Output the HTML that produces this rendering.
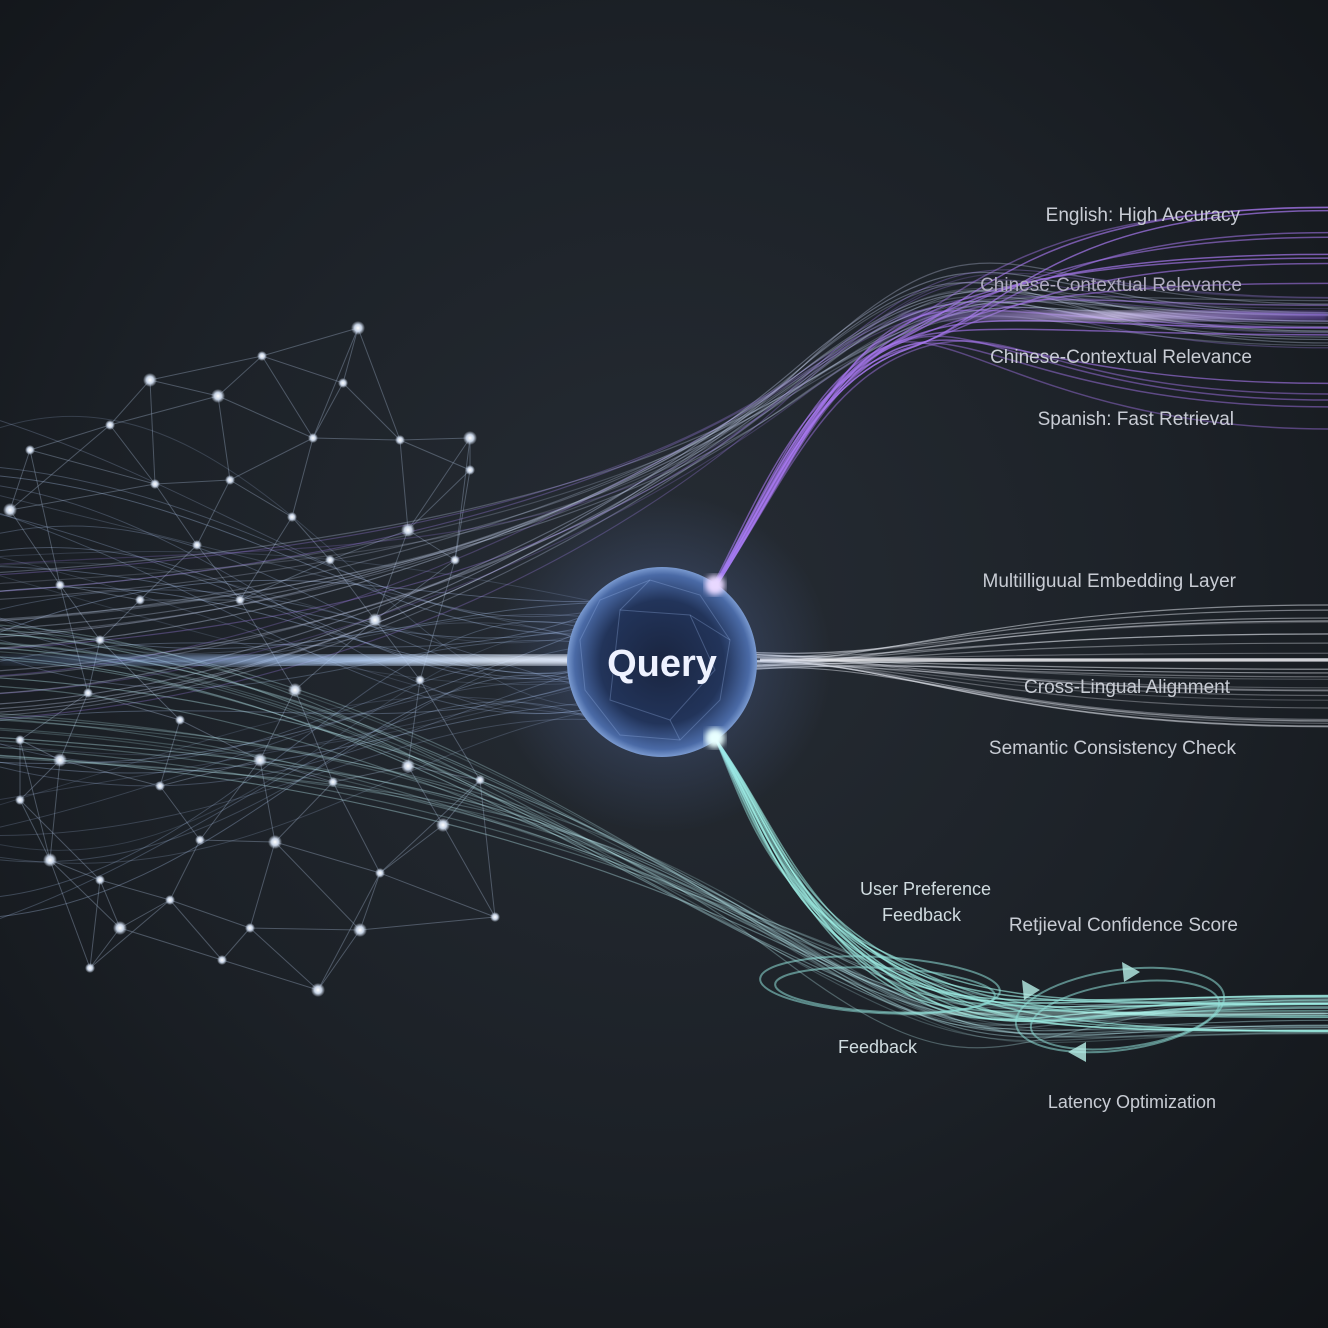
<!DOCTYPE html>
<html><head><meta charset="utf-8"><style>
html,body{margin:0;padding:0;background:#15191f;}
svg{display:block}
text{font-family:"Liberation Sans",sans-serif;}
</style></head><body>
<svg id="s" width="1328" height="1328" viewBox="0 0 1328 1328" xmlns="http://www.w3.org/2000/svg">
<defs>
<radialGradient id="bg" cx="0.5" cy="0.45" r="0.75">
<stop offset="0" stop-color="#262c34"/><stop offset="0.55" stop-color="#1c2127"/><stop offset="1" stop-color="#111418"/>
</radialGradient>
<radialGradient id="sph" cx="0.5" cy="0.5" r="0.5">
<stop offset="0" stop-color="#1a2540"/><stop offset="0.65" stop-color="#22345a"/><stop offset="0.92" stop-color="#4a6aa6"/><stop offset="1" stop-color="#7a9ad0"/>
</radialGradient>
<radialGradient id="glow" cx="0.5" cy="0.5" r="0.5">
<stop offset="0" stop-color="#7aa0ff" stop-opacity="0.3"/><stop offset="1" stop-color="#7aa0ff" stop-opacity="0"/>
</radialGradient>
<radialGradient id="dot" cx="0.5" cy="0.5" r="0.5">
<stop offset="0" stop-color="#ffffff"/><stop offset="0.5" stop-color="#c8d4e6"/><stop offset="1" stop-color="#c8d4e6" stop-opacity="0"/>
</radialGradient>
<linearGradient id="hline" x1="0" x2="1"><stop offset="0" stop-color="#8ab4ff" stop-opacity="0.1"/><stop offset="0.6" stop-color="#bcd8ff" stop-opacity="0.9"/><stop offset="1" stop-color="#ffffff" stop-opacity="1"/></linearGradient>
<linearGradient id="pl" x1="0" x2="1"><stop offset="0" stop-color="#9a6cf0" stop-opacity="0.3"/><stop offset="0.5" stop-color="#e0d0ff" stop-opacity="1"/><stop offset="1" stop-color="#8a5ae0" stop-opacity="0.6"/></linearGradient>
<filter id="blur"><feGaussianBlur stdDeviation="3"/></filter>
</defs>
<rect width="1328" height="1328" fill="url(#bg)"/>
<g id="net" stroke="#8a9ab0" stroke-width="1" stroke-opacity="0.45" fill="none"></g>
<g id="streams" fill="none"></g>
<rect x="0" y="655" width="600" height="10" fill="url(#hline)" filter="url(#blur)"/>
<line x1="40" y1="660" x2="600" y2="660" stroke="url(#hline)" stroke-width="2"/>
<rect x="900" y="311" width="428" height="10" fill="url(#pl)" filter="url(#blur)" opacity="0.8"/>
<line x1="880" y1="316" x2="1328" y2="316" stroke="url(#pl)" stroke-width="2"/>
<g fill="none" stroke="#8fe0d8" stroke-opacity="0.55" stroke-width="2">
<ellipse cx="880" cy="985" rx="120" ry="28" transform="rotate(3 880 985)"/>
<ellipse cx="885" cy="990" rx="110" ry="22" transform="rotate(3 885 990)"/>
<ellipse cx="1120" cy="1010" rx="105" ry="40" transform="rotate(-8 1120 1010)"/>
<ellipse cx="1125" cy="1015" rx="95" ry="32" transform="rotate(-8 1125 1015)"/>
</g>
<g fill="#b8f0e8" opacity="0.8">
<polygon points="1140,972 1122,962 1124,982"/>
<polygon points="1068,1052 1086,1042 1086,1062"/>
<polygon points="1040,990 1022,980 1024,1000"/>
</g>
<circle cx="662" cy="662" r="170" fill="url(#glow)"/>
<circle cx="662" cy="662" r="95" fill="url(#sph)"/>
<g stroke="#9ab8ee" stroke-opacity="0.3" fill="none" stroke-width="1">
<polygon points="600,600 650,580 700,595 730,640 720,700 680,740 620,735 585,690 580,640"/>
<polygon points="620,610 690,615 715,670 670,720 610,700"/>
<line x1="650" y1="580" x2="620" y2="610"/><line x1="730" y1="640" x2="690" y2="615"/><line x1="680" y1="740" x2="670" y2="720"/>
</g>
<circle cx="715" cy="585" r="10" fill="#e8d8ff" filter="url(#blur)"/>
<circle cx="715" cy="738" r="10" fill="#e8ffff" filter="url(#blur)"/>
<text x="662" y="676" text-anchor="middle" font-size="38" font-weight="bold" fill="#eef2ff">Query</text>
<g font-size="19" fill="#c8ccd4">
<text x="1240" y="221" text-anchor="end">English: High Accuracy</text>
<text x="1242" y="291" text-anchor="end" fill="#b0acc0">Chinese-Contextual Relevance</text>
<text x="1252" y="363" text-anchor="end">Chinese-Contextual Relevance</text>
<text x="1234" y="425" text-anchor="end">Spanish: Fast Retrieval</text>
<text x="1236" y="587" text-anchor="end">Multilliguual Embedding Layer</text>
<text x="1230" y="693" text-anchor="end">Cross-Lingual Alignment</text>
<text x="1236" y="754" text-anchor="end">Semantic Consistency Check</text>
<text x="1238" y="931" text-anchor="end">Retjieval Confidence Score</text>
<text x="1216" y="1108" text-anchor="end" font-size="18">Latency Optimization</text>
</g>
<g font-size="18" fill="#d0dce0">
<text x="860" y="895">User Preference</text>
<text x="882" y="921">Feedback</text>
<text x="838" y="1053">Feedback</text>
</g>
<g id="nodes"></g>
<script>
(function(){
var N=[[358,328],[262,356],[343,383],[218,396],[110,425],[313,438],[470,438],[155,484],[292,517],[408,530],[197,545],[60,585],[10,510],[455,560],[100,640],[375,620],[240,600],[88,693],[295,690],[180,720],[20,740],[408,766],[160,786],[333,782],[443,825],[20,800],[100,880],[275,842],[380,873],[200,840],[120,928],[250,928],[495,917],[318,990],[222,960],[90,968],[50,860],[470,470],[30,450],[150,380],[400,440],[420,680],[260,760],[140,600],[330,560],[60,760],[480,780],[230,480],[360,930],[170,900]];
var net=document.getElementById('net'),nodes=document.getElementById('nodes'),ns='http://www.w3.org/2000/svg';
function el(t,a,p){var e=document.createElementNS(ns,t);for(var k in a)e.setAttribute(k,a[k]);p.appendChild(e);return e;}
var seen={};
N.forEach(function(a,i){
 var d=N.map(function(b,j){return [Math.hypot(a[0]-b[0],a[1]-b[1]),j];}).sort(function(x,y){return x[0]-y[0];});
 for(var k=1;k<=4;k++){var j=d[k][1];var key=Math.min(i,j)+'-'+Math.max(i,j);if(seen[key]||d[k][0]>170)continue;seen[key]=1;
  el('line',{x1:a[0],y1:a[1],x2:N[j][0],y2:N[j][1]},net);}
});
N.forEach(function(a,i){el('circle',{cx:a[0],cy:a[1],r:(i%3?5:7),fill:'url(#dot)'},nodes);});
var S=document.getElementById('streams');
var r=1;function rnd(){r=(r*9301+49297)%233280;return r/233280;}
for(var i=0;i<40;i++){var y0=420+rnd()*520,y1=600+rnd()*120;
 el('path',{d:'M0 '+y0+' C250 '+(y0+(rnd()-0.5)*200)+' 400 '+(y1+(rnd()-0.5)*150)+' 590 '+y1,stroke:'#a8c0e8','stroke-opacity':0.16+rnd()*0.2,'stroke-width':1},S);}
for(var i=0;i<25;i++){var y0=560+rnd()*160,yr=290+rnd()*60;
 el('path',{d:'M0 '+y0+' C300 '+(y0-20)+' 600 '+(500+rnd()*80)+' 800 '+(360+rnd()*40)+' S1000 '+yr+' 1328 '+yr,stroke:i<18?'#c8d4f0':'#a080e8','stroke-opacity':0.18+rnd()*0.2,'stroke-width':1.2},S);}
for(var i=0;i<25;i++){var y0=620+rnd()*140,yr=995+rnd()*40;
 el('path',{d:'M0 '+y0+' C300 '+(y0+20)+' 550 '+(780+rnd()*60)+' 780 '+(920+rnd()*40)+' S1000 '+yr+' 1328 '+yr,stroke:'#b8e8ec','stroke-opacity':0.18+rnd()*0.22,'stroke-width':1.2},S);}
for(var i=0;i<18;i++){var yr=200+rnd()*240,dx=(rnd()-0.5)*24;
 el('path',{d:'M'+(715+dx*0.2)+' 585 C'+(775+dx)+' 480 '+(815+dx)+' 380 '+(880+rnd()*40)+' '+(330+rnd()*20)+' S1050 '+yr+' 1328 '+yr,stroke:'#a878f0','stroke-opacity':0.35+rnd()*0.35,'stroke-width':1.5},S);}
for(var i=0;i<30;i++){var yr=590+rnd()*140;
 el('path',{d:'M755 '+(650+rnd()*20)+' C900 660 1000 '+yr+' 1328 '+yr,stroke:'#d8dce4','stroke-opacity':0.2+rnd()*0.4,'stroke-width':1.2},S);}
el('path',{d:'M760 660 L1328 660',stroke:'#f0f0f4','stroke-width':3,'stroke-opacity':0.8},S);
for(var i=0;i<18;i++){var yr=995+rnd()*40,dx=(rnd()-0.5)*30;
 el('path',{d:'M715 738 C'+(760+dx)+' 820 '+(780+dx)+' 900 '+(860+rnd()*40)+' '+(950+rnd()*30)+' S1050 '+yr+' 1328 '+yr,stroke:'#9ff0e6','stroke-opacity':0.35+rnd()*0.35,'stroke-width':1.5},S);}
el('path',{d:'M900 1012 L1328 1015',stroke:'#c8fff6','stroke-width':4,'stroke-opacity':0.7,filter:'url(#blur)'},S);
})();
</script>
</svg>
</body></html>
